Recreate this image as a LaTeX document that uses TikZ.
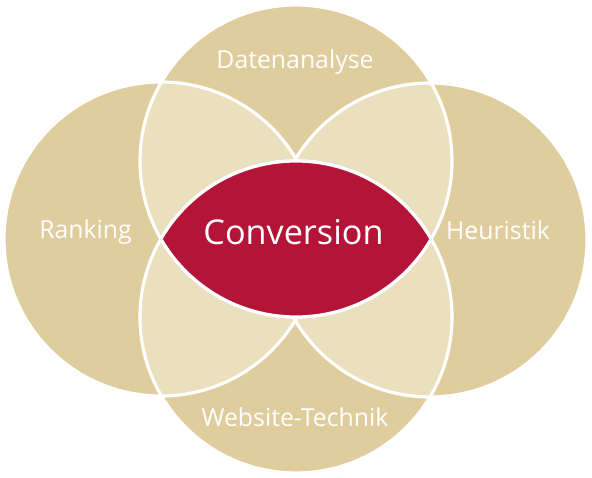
\documentclass[tikz,border=0pt]{standalone}
\usepackage{fontspec}
\setmainfont{Open Sans}
\usepackage{tikz}

\definecolor{sand}{HTML}{E0CD9E}
\definecolor{sandlight}{HTML}{EBE0BE}
\definecolor{wine}{HTML}{B41437}

\def\cTop{(296,161) circle (156pt)}
\def\cBottom{(296,317) circle (156pt)}
\def\cLeft{(161,239) circle (157pt)}
\def\cRight{(430,240) circle (157pt)}

\begin{document}
\begin{tikzpicture}[x=1pt,y=-1pt,
    ring/.style={draw=white,line width=3.2pt},
    circtext/.style={text=white,anchor=base,inner sep=0pt,font=\fontsize{24.8}{28}\selectfont}]
	\useasboundingbox (0,0) rectangle (592,478);
	% the four circles
	\fill[sand] \cTop;
	\fill[sand] \cBottom;
	\fill[sand] \cLeft;
	\fill[sand] \cRight;
	% overlaps of neighbours
	\begin{scope}
		\clip \cTop;
		\fill[sandlight] \cLeft;
		\fill[sandlight] \cRight;
	\end{scope}
	\begin{scope}
		\clip \cBottom;
		\fill[sandlight] \cLeft;
		\fill[sandlight] \cRight;
	\end{scope}
	\draw[ring] \cTop;
	\draw[ring] \cBottom;
	\draw[ring] \cLeft;
	\draw[ring] \cRight;
	% the lens in the middle
	\begin{scope}
		\clip \cTop;
		\fill[wine] \cBottom;
		\draw[ring] \cBottom;
	\end{scope}
	\begin{scope}
		\clip \cBottom;
		\draw[ring] \cTop;
	\end{scope}
	\node[circtext] (daten) at (295,69) {Datenanalyse};
	\node[circtext] (ranking) at (85.5,238.3) {Ranking};
	\node[circtext] (heuristik) at (498,240) {Heuristik};
	\node[circtext] (technik) at (295,426.7) {Website-Technik};
	\node[circtext,font=\fontsize{34.2}{40}\selectfont] (conversion) at (293.5,245) {Conversion};
\end{tikzpicture}
\end{document}
